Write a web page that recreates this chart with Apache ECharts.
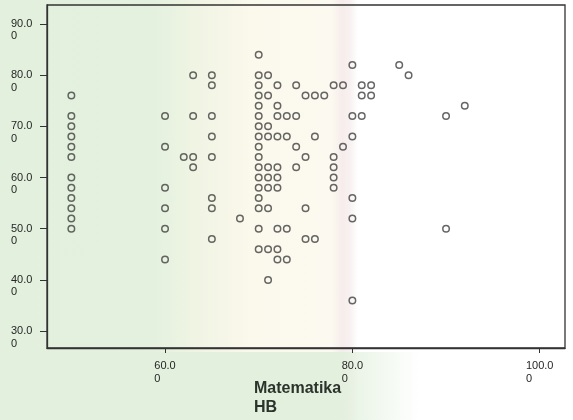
<!DOCTYPE html>
<html>
<head>
<meta charset="utf-8">
<script src="https://cdn.jsdelivr.net/npm/echarts@6/dist/echarts.min.js"></script>
<style>
  html, body { margin: 0; padding: 0; background: #ffffff; }
  #chart {
    width: 573px;
    height: 420px;
    background:
      linear-gradient(90deg, rgba(226,240,221,1) 0px, rgba(226,240,221,1) 330px, rgba(226,240,221,0) 420px) 0 352px / 430px 68px no-repeat,
      linear-gradient(90deg, #e2f0dd 0px, #e3f1de 150px, #f0f4e3 195px, #fbf8ec 250px, #fcf9f0 332px, #f6ecec 342px, #f9f1f1 350px, #ffffff 358px);
  }
</style>
</head>
<body>
<div id="chart"></div>
<script>
// Matematika HB scores (x) and, for each, the paired scores on the vertical axis
const mathScores = [50, 60, 62, 63, 65, 68, 70, 71, 72, 73, 74, 75, 76, 77, 78, 79, 80, 81, 82, 85, 86, 90, 92];
const pairedScores = [
  [76, 72, 70, 68, 66, 64, 60, 58, 56, 54, 52, 50],
  [72, 66, 58, 54, 50, 44],
  [64],
  [80, 72, 64, 62],
  [80, 78, 72, 68, 64, 56, 54, 48],
  [52],
  [84, 80, 78, 76, 74, 72, 70, 68, 66, 64, 62, 60, 58, 56, 54, 50, 46],
  [80, 76, 70, 68, 62, 60, 58, 54, 46, 40],
  [78, 74, 72, 68, 62, 60, 58, 50, 46, 44],
  [72, 68, 50, 44],
  [78, 72, 66, 62],
  [76, 64, 54, 48],
  [76, 68, 48],
  [76],
  [78, 64, 62, 60, 58],
  [78, 66],
  [82, 72, 68, 56, 52, 36],
  [78, 76, 72],
  [78, 76],
  [82],
  [80],
  [72, 50],
  [74]
];
const xTicks = [60, 80, 100];
const yTicks = [30, 40, 50, 60, 70, 80, 90];
const xTitle = 'Matematika\nHB';

const points = [];
mathScores.forEach((x, i) => {
  pairedScores[i].forEach(y => points.push([x, y]));
});

const FONT = 'Liberation Sans, Arial, sans-serif';
const INK = '#262626';

const chart = echarts.init(document.getElementById('chart'), null, { renderer: 'canvas' });
chart.setOption({
  backgroundColor: 'transparent',
  animation: false,
  grid: {
    left: 47, right: 8, top: 5, bottom: 72,
    show: true,
    borderColor: '#333333',
    borderWidth: 1.3,
    backgroundColor: 'transparent'
  },
  xAxis: {
    type: 'value',
    min: 47.4,
    max: 102.7,
    splitLine: { show: false },
    axisLine: { show: true, lineStyle: { color: '#333333', width: 1.3 } },
    axisTick: { show: true, length: 5, customValues: xTicks, lineStyle: { color: '#333333' } },
    axisLabel: {
      customValues: xTicks,
      margin: 12,
      color: INK,
      fontFamily: FONT,
      fontSize: 11,
      lineHeight: 12.5,
      formatter: v => '{a|' + v.toFixed(1) + '}\n{a|0}',
      rich: { a: { align: 'left', fontFamily: FONT, fontSize: 11, lineHeight: 12.5, color: INK } }
    }
  },
  yAxis: {
    type: 'value',
    min: 26.7,
    max: 93.7,
    splitLine: { show: false },
    axisLine: { show: true, lineStyle: { color: '#333333', width: 1.3 } },
    axisTick: { show: true, length: 7, customValues: yTicks, lineStyle: { color: '#333333' } },
    axisLabel: {
      customValues: yTicks,
      align: 'left',
      margin: 36,
      color: INK,
      fontFamily: FONT,
      fontSize: 11,
      lineHeight: 12.5,
      formatter: v => ' \n' + v.toFixed(1) + '\n0'
    }
  },
  graphic: [{
    type: 'text',
    left: 254,
    top: 379,
    style: {
      text: xTitle,
      font: 'bold 16px ' + FONT,
      lineHeight: 19,
      fill: '#2c332c'
    }
  }],
  series: [{
    type: 'scatter',
    data: points,
    symbol: 'circle',
    symbolSize: 6.5,
    itemStyle: { color: 'rgba(0,0,0,0)', borderColor: '#404040', borderWidth: 1.5 },
    emphasis: { disabled: true },
    z: 5
  }]
});
</script>
</body>
</html>
